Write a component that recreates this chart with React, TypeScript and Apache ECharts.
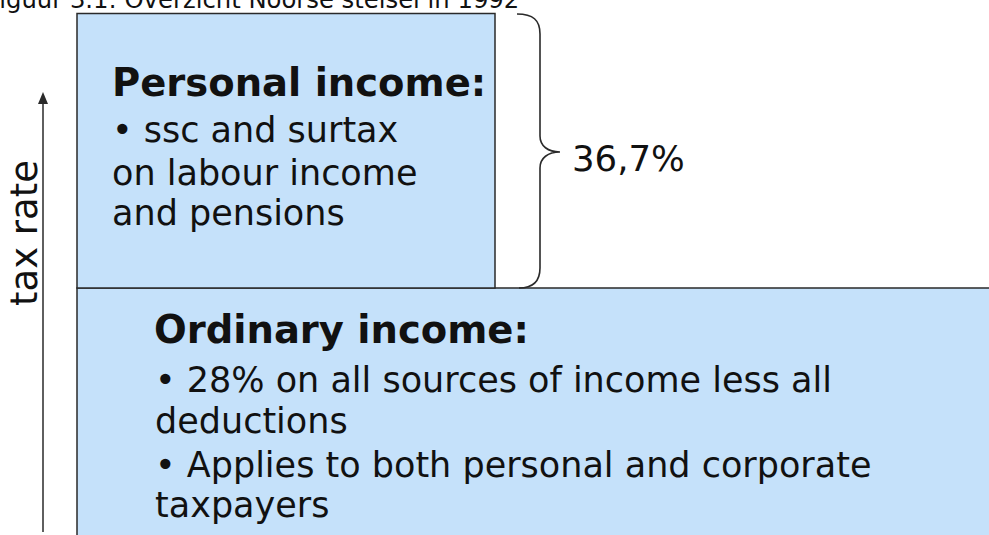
import React, { useEffect, useRef } from "react";
import * as echarts from "echarts";

const titleText = "Figuur 3.1: Overzicht Noorse stelsel in 1992";
const axisLabel = "tax rate";
const rateLabel = "36,7%";
const personalHeading = "Personal income:";
const personalLines = ["• ssc and surtax", "on labour income", "and pensions"];
const ordinaryHeading = "Ordinary income:";
const ordinaryLines = [
  "• 28% on all sources of income less all",
  "deductions",
  "• Applies to both personal and corporate",
  "taxpayers",
];

const FONT = "'DejaVu Sans', Verdana, sans-serif";
const FILL = "#c5e1fa";
const STROKE = "#2a2a2a";

const bracePath =
  "M517,14 C533,14 540,20 540,34 L540,136 C540,146 548,152 560,152 C548,152 540,158 540,168 L540,268 C540,282 533,288 519,288";

echarts.graphic.registerShape("brace", echarts.graphic.extendPath(bracePath, {}) as any);

export default function App() {
  const ref = useRef<HTMLDivElement>(null);
  useEffect(() => {
    if (!ref.current) return;
    const chart = echarts.init(ref.current, null, { renderer: "svg" });
    const txt = (text: string, x: number, y: number, size: number, bold = false, extra: any = {}) => ({
      type: "text",
      x,
      y,
      ...extra,
      style: {
        text,
        x: 0,
        y: 0,
        fill: "#111",
        font: `${bold ? "bold " : ""}${size}px ${FONT}`,
        textAlign: extra.textAlign || "left",
        textVerticalAlign: "middle",
      },
    });
    const personalY = [130, 173, 213];
    const ordinaryY = [380, 421, 465, 505];
    const elements: any[] = [
      {
        type: "rect",
        shape: { x: 77, y: 288, width: 940, height: 300 },
        style: { fill: FILL, stroke: STROKE, lineWidth: 1.5 },
      },
      {
        type: "rect",
        shape: { x: 77, y: 13.5, width: 418, height: 274.5 },
        style: { fill: FILL, stroke: STROKE, lineWidth: 1.5 },
      },
      {
        type: "brace",
        x: 0,
        y: 0,
        style: { fill: "none", stroke: STROKE, lineWidth: 1.6 },
      },
      {
        type: "line",
        shape: { x1: 43, y1: 532, x2: 43, y2: 100 },
        style: { stroke: STROKE, lineWidth: 1.5 },
      },
      {
        type: "polygon",
        shape: { points: [[43, 92], [38, 104], [48, 104]] },
        style: { fill: STROKE },
      },
      txt(titleText, -13, -1, 24.3),
      txt(personalHeading, 112, 82.5, 38.5, true),
      ...personalLines.map((l, i) => txt(l, 112, personalY[i], 35)),
      txt(ordinaryHeading, 154, 329.5, 38.5, true),
      ...ordinaryLines.map((l, i) => txt(l, 155, ordinaryY[i], 35)),
      txt(rateLabel, 572, 158, 35.5),
      {
        type: "text",
        x: 24,
        y: 233,
        rotation: Math.PI / 2,
        style: {
          text: axisLabel,
          x: 0,
          y: 0,
          fill: "#111",
          font: `37px ${FONT}`,
          textAlign: "center",
          textVerticalAlign: "middle",
        },
      },
    ];
    chart.setOption({
      animation: false,
      backgroundColor: "#ffffff",
      graphic: { elements },
    });
    return () => chart.dispose();
  }, []);
  return (
    <div
      ref={ref}
      style={{ position: "fixed", left: 0, top: 0, width: 989, height: 535, background: "#fff" }}
    />
  );
}
